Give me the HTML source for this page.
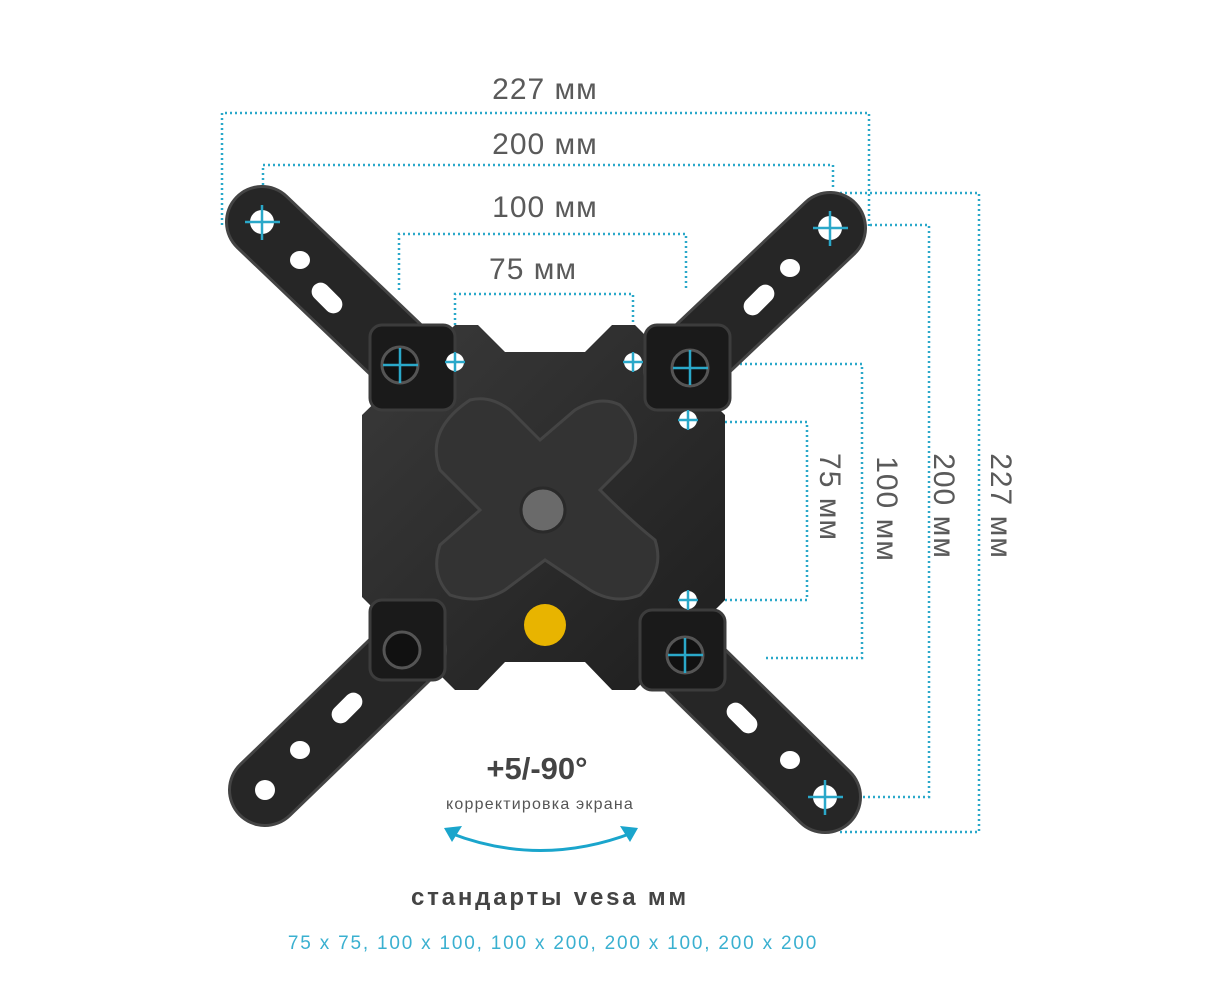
<!DOCTYPE html>
<html><head><meta charset="utf-8"><style>
body{margin:0;background:#fff;}
svg{display:block}
text{font-family:"Liberation Sans",sans-serif;}
</style></head><body>
<svg width="1223" height="1000" viewBox="0 0 1223 1000" xmlns="http://www.w3.org/2000/svg">
<defs>
<linearGradient id="g" x1="0" y1="0" x2="1" y2="1"><stop offset="0" stop-color="#3a3a3a"/><stop offset="1" stop-color="#1e1e1e"/></linearGradient>
</defs>
<g fill="none" stroke="#2aa8c9" stroke-width="2.5" stroke-dasharray="2 3">
<path d="M222 225V113H869V228"/>
<path d="M263 190V165H833V190"/>
<path d="M399 290V234H686V290"/>
<path d="M455 350V294H633V350"/>
<path d="M835 193H979V832H840"/>
<path d="M870 225H929V797H845"/>
<path d="M715 364H862V658H765"/>
<path d="M720 422H807V600H720"/>
</g>
<g fill="#5a5a5a" font-size="30" letter-spacing="1">
<text x="545" y="99" text-anchor="middle">227 мм</text>
<text x="545" y="154" text-anchor="middle">200 мм</text>
<text x="545" y="217" text-anchor="middle">100 мм</text>
<text x="533" y="279" text-anchor="middle">75 мм</text>
<text transform="translate(820,497) rotate(90)" text-anchor="middle">75 мм</text>
<text transform="translate(877,509) rotate(90)" text-anchor="middle">100 мм</text>
<text transform="translate(934,506) rotate(90)" text-anchor="middle">200 мм</text>
<text transform="translate(991,506) rotate(90)" text-anchor="middle">227 мм</text>
</g>
<path d="M455 325H478L505 352H585L612 325H635L725 415V600L635 690H612L585 662H505L478 690H455L362 597V415Z" fill="url(#g)"/>
<path d="M470 400Q490 395 510 410L540 440L575 410Q600 395 620 405Q645 430 630 460L600 490Q630 520 655 540Q665 570 640 595Q615 605 590 590L545 560L505 590Q480 605 450 595Q430 575 440 545L480 510L440 470Q425 430 470 400Z" fill="#333" stroke="#444" stroke-width="3"/>
<g stroke-linecap="round">
<line x1="262" y1="222" x2="415" y2="368" stroke="#444" stroke-width="74"/>
<line x1="830" y1="228" x2="680" y2="370" stroke="#444" stroke-width="74"/>
<line x1="265" y1="790" x2="410" y2="650" stroke="#444" stroke-width="74"/>
<line x1="825" y1="797" x2="680" y2="655" stroke="#444" stroke-width="74"/>
<line x1="262" y1="222" x2="415" y2="368" stroke="#262626" stroke-width="68"/>
<line x1="830" y1="228" x2="680" y2="370" stroke="#262626" stroke-width="68"/>
<line x1="265" y1="790" x2="410" y2="650" stroke="#262626" stroke-width="68"/>
<line x1="825" y1="797" x2="680" y2="655" stroke="#262626" stroke-width="68"/>
</g>
<g fill="#1a1a1a" stroke="#3c3c3c" stroke-width="3">
<rect x="370" y="325" width="85" height="85" rx="12"/>
<rect x="645" y="325" width="85" height="85" rx="12"/>
<rect x="370" y="600" width="75" height="80" rx="12"/>
<rect x="640" y="610" width="85" height="80" rx="12"/>
</g>
<g fill="#111" stroke="#555" stroke-width="3">
<circle cx="400" cy="365" r="18"/><circle cx="690" cy="368" r="18"/>
<circle cx="402" cy="650" r="18"/><circle cx="685" cy="655" r="18"/>
</g>
<g fill="#fff">
<ellipse cx="300" cy="260" rx="10" ry="9"/><rect x="318" y="280" width="18" height="36" rx="9" transform="rotate(-45 327 298)"/>
<ellipse cx="790" cy="268" rx="10" ry="9"/><rect x="750" y="282" width="18" height="36" rx="9" transform="rotate(45 759 300)"/>
<ellipse cx="300" cy="750" rx="10" ry="9"/><rect x="338" y="690" width="18" height="36" rx="9" transform="rotate(45 347 708)"/>
<ellipse cx="790" cy="760" rx="10" ry="9"/><rect x="733" y="700" width="18" height="36" rx="9" transform="rotate(-45 742 718)"/>
<circle cx="262" cy="222" r="12"/><circle cx="830" cy="228" r="12"/><circle cx="265" cy="790" r="10"/><circle cx="825" cy="797" r="12"/>
<circle cx="455" cy="362" r="9"/><circle cx="633" cy="362" r="9"/><circle cx="688" cy="420" r="9"/><circle cx="688" cy="600" r="9"/>
</g>
<circle cx="543" cy="510" r="22" fill="#6a6a6a" stroke="#2a2a2a" stroke-width="3"/>
<circle cx="545" cy="625" r="21" fill="#e8b400"/>
<g stroke="#2aa8c9" stroke-width="2.5">
<path d="M262 205V240M245 222H280"/><path d="M830 211V246M813 228H848"/>
<path d="M400 348V383M383 365H418"/><path d="M690 350V385M673 368H708"/>
<path d="M685 638V673M668 655H703"/><path d="M825 780V815M808 797H843"/>
<path d="M455 352V372M445 362H465"/><path d="M633 352V372M623 362H643"/>
<path d="M688 410V430M678 420H698"/><path d="M688 590V610M678 600H698"/>
</g>
<text x="537" y="779" text-anchor="middle" font-size="31" font-weight="bold" fill="#444">+5/-90°</text>
<text x="540" y="809" text-anchor="middle" font-size="16" fill="#555" letter-spacing="1.2">корректировка экрана</text>
<path d="M450 833Q540 868 632 833" fill="none" stroke="#1aa5cc" stroke-width="3"/>
<path d="M444 828L462 826L452 842Z M638 828L620 826L630 842Z" fill="#1aa5cc"/>
<text x="550" y="905" text-anchor="middle" font-size="24" font-weight="bold" fill="#444" letter-spacing="2.8">стандарты vesa мм</text>
<text x="553" y="949" text-anchor="middle" font-size="19" fill="#3ab0d0" letter-spacing="1.8">75 x 75, 100 x 100, 100 x 200, 200 x 100, 200 x 200</text>
</svg>
</body></html>
